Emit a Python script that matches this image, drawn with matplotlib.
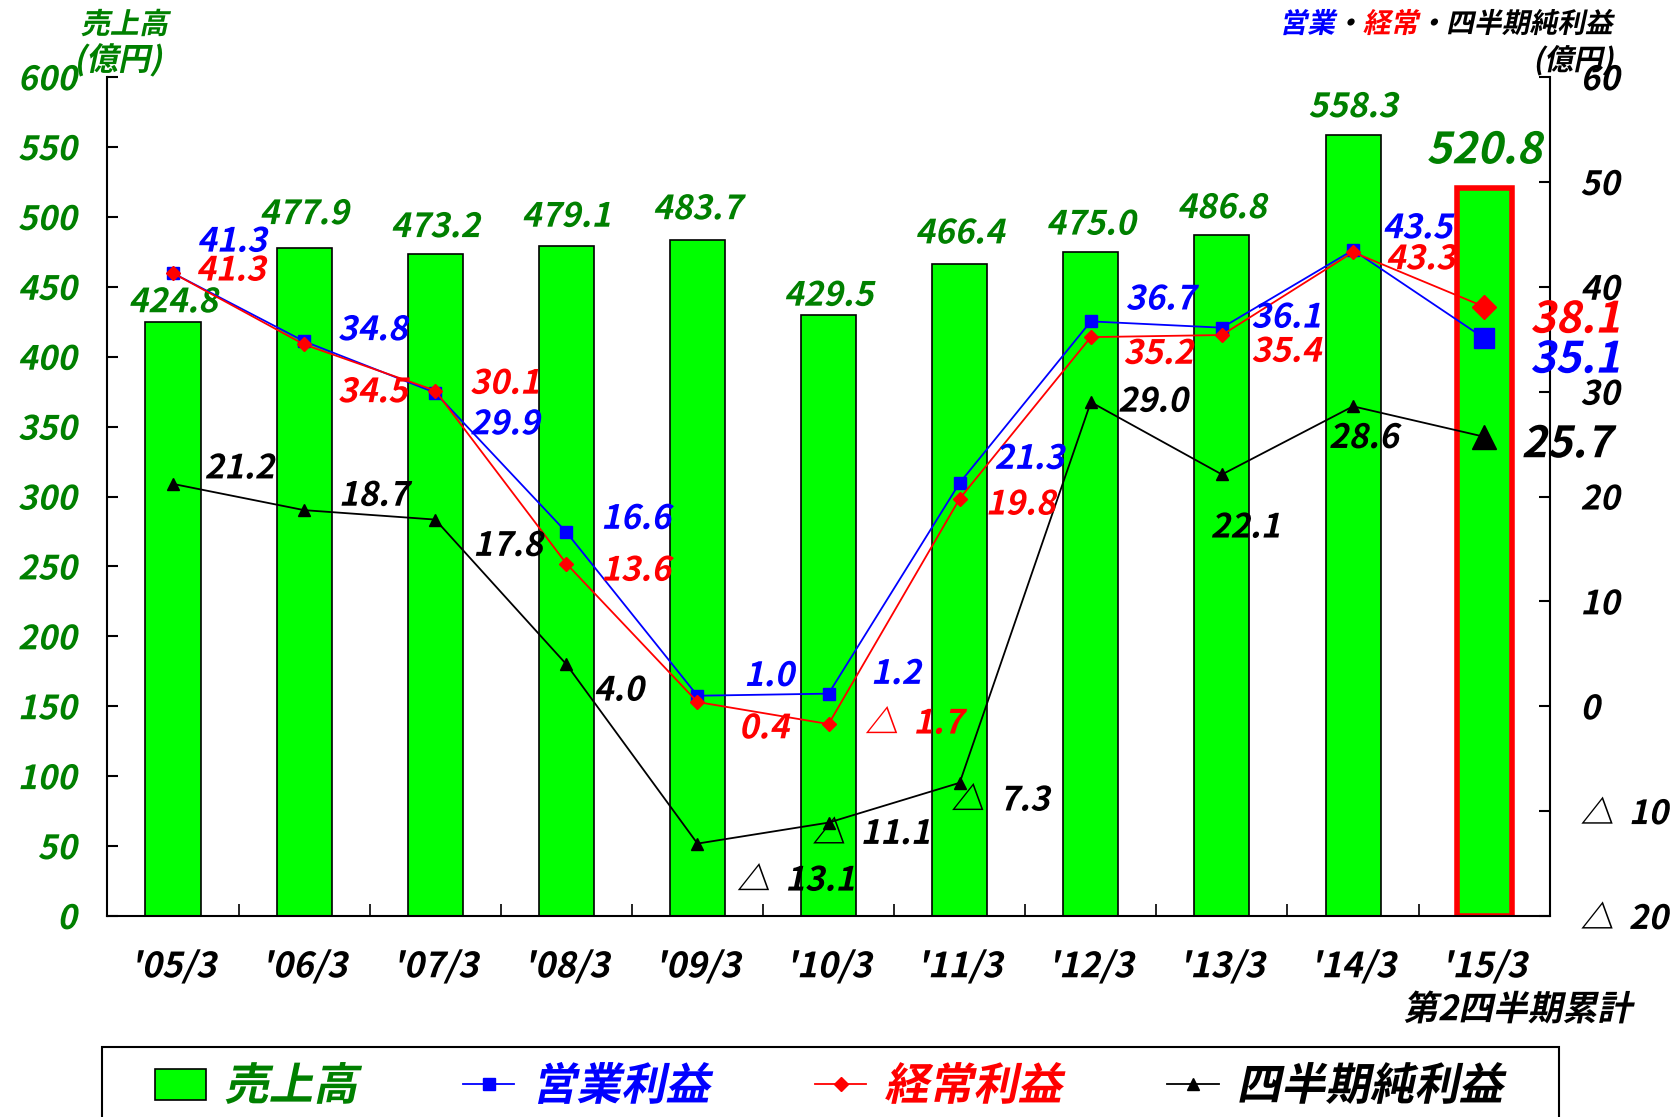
import matplotlib
matplotlib.use("Agg")
import matplotlib.pyplot as plt
import matplotlib.patheffects as pe
from matplotlib.transforms import Affine2D
from matplotlib.patches import Patch, Rectangle
import numpy as np

plt.rcParams["font.family"] = ["Noto Sans CJK JP", "DejaVu Sans"]
plt.rcParams["font.weight"] = "bold"

periods = ["'05/3", "'06/3", "'07/3", "'08/3", "'09/3", "'10/3",
           "'11/3", "'12/3", "'13/3", "'14/3", "'15/3"]
sales = [424.8, 477.9, 473.2, 479.1, 483.7, 429.5, 466.4, 475.0, 486.8, 558.3, 520.8]
op_income = [41.3, 34.8, 29.9, 16.6, 1.0, 1.2, 21.3, 36.7, 36.1, 43.5, 35.1]
ord_income = [41.3, 34.5, 30.1, 13.6, 0.4, -1.7, 19.8, 35.2, 35.4, 43.3, 38.1]
net_income = [21.2, 18.7, 17.8, 4.0, -13.1, -11.1, -7.3, 29.0, 22.1, 28.6, 25.7]
left_ticks = list(range(0, 601, 50))
right_ticks = list(range(-20, 61, 10))
right_labels = ["△  20", "△  10", "0", "10", "20", "30", "40", "50", "60"]

GREEN = "#008000"
K = 1.071 / 1.389  # reference px -> points

# label offsets (reference px, right / down)
sales_dy = [18, 31, 25, 27, 28, 18, 28, 25, 25, 26, 35]
op_off = [(55, -29), (64, -10), (65, 30), (65, -12), (67, -18), (63, -18),
          (65, -22), (65, -20), (60, -9), (60, -20), (85, 20)]
ord_off = [(54, -2), (64, 45), (65, -6), (65, 7), (62, 25), (80, 0),
           (57, 6), (63, 16), (60, 16), (63, 7), (85, 12)]
net_off = [(62, -14), (65, -13), (68, 25), (49, 25), (92, 35), (40, 11),
           (38, 17), (58, 0), (22, 50), (10, 30), (77, 7)]


class Slant(pe.AbstractPathEffect):
    """斜体がないフォントを斜めにする"""
    def __init__(self, deg=12):
        super().__init__()
        self.deg = deg

    def draw_path(self, renderer, gc, tpath, affine, rgbFace=None):
        renderer.draw_path(gc, tpath, Affine2D().skew_deg(self.deg, 0) + affine, rgbFace)


SL = [Slant()]


def fmt(v):
    return f"△  {abs(v):.1f}" if v < 0 else f"{v:.1f}"


fig = plt.figure(figsize=(16.79, 11.17), dpi=100)
ax = fig.add_axes([0.064, 0.180, 0.859, 0.751])
ax2 = ax.twinx()

x = np.arange(len(periods))
edges = ["black"] * (len(x) - 1) + ["red"]
lws = [1.2] * (len(x) - 1) + [4]
ax.bar(x, sales, width=0.42, color="#00FF00", edgecolor=edges, linewidth=lws, zorder=2)

ax.set_xlim(-0.5, len(x) - 0.5)
ax.set_ylim(0, 600)
ax.set_yticks(left_ticks)
ax.set_yticklabels([str(t) for t in left_ticks])
ax.set_xticks(x)
ax.set_xticklabels(periods)
ax.set_xticks(np.arange(0.5, len(x) - 1, 1), minor=True)
ax.tick_params(axis="y", direction="in", length=8, width=1.5, labelsize=24,
               labelcolor=GREEN, pad=22)
ax.tick_params(axis="x", which="major", length=0, labelsize=25, pad=24)
ax.tick_params(axis="x", which="minor", direction="in", length=9, width=1.2)

ax2.set_ylim(-20, 60)
ax2.set_yticks(right_ticks)
ax2.set_yticklabels(right_labels)
ax2.tick_params(axis="y", direction="in", length=8, width=1.5, labelsize=24, pad=22)

for a in (ax, ax2):
    a.spines["top"].set_visible(False)
    for s in a.spines.values():
        s.set_linewidth(1.5)
ax.spines["right"].set_visible(False)
ax2.spines["left"].set_visible(False)
ax2.spines["bottom"].set_visible(False)

for lab in ax.get_xticklabels() + ax.get_yticklabels() + ax2.get_yticklabels():
    lab.set_path_effects(SL)

# 利益ライン
l_op, = ax2.plot(x, op_income, color="blue", lw=1.3, marker="s", ms=8, zorder=3)
l_ord, = ax2.plot(x, ord_income, color="red", lw=1.3, marker="D", ms=7, zorder=4)
l_net, = ax2.plot(x, net_income, color="black", lw=1.3, marker="^", ms=9, zorder=3)
ax2.plot(x[-1], op_income[-1], "s", color="blue", ms=15, zorder=5)
ax2.plot(x[-1], ord_income[-1], "D", color="red", ms=12, zorder=5)
ax2.plot(x[-1], net_income[-1], "^", color="black", ms=17, zorder=5)

# 数値ラベル
for i, v in enumerate(sales):
    big = i == len(sales) - 1
    ax.annotate(fmt(v), (x[i], v), xytext=(0, sales_dy[i] * K), textcoords="offset points",
                ha="center", va="center", color=GREEN, fontsize=31 if big else 24,
                path_effects=SL, zorder=6)

for vals, offs, col in [(op_income, op_off, "blue"),
                        (ord_income, ord_off, "red"),
                        (net_income, net_off, "black")]:
    for i, v in enumerate(vals):
        big = i == len(vals) - 1
        dx, dy = offs[i]
        ax2.annotate(fmt(v), (x[i], v), xytext=(dx * K, -dy * K), textcoords="offset points",
                     ha="center", va="center", color=col, fontsize=31 if big else 24,
                     path_effects=SL, zorder=6)

# 軸タイトル
fig.text(0.048, 0.978, "売上高", color=GREEN, fontsize=21, ha="left", va="center", path_effects=SL)
fig.text(0.044, 0.946, "(億円)", color=GREEN, fontsize=23, ha="left", va="center", path_effects=SL)

t1 = fig.text(0.762, 0.978, "営業", color="blue", fontsize=20, ha="left", va="center", path_effects=SL)
t2 = ax.annotate("・", xy=(1, 0), xycoords=t1, color="black", fontsize=20, va="bottom", ha="left", path_effects=SL)
t3 = ax.annotate("経常", xy=(1, 0), xycoords=t2, color="red", fontsize=20, va="bottom", ha="left", path_effects=SL)
ax.annotate("・四半期純利益", xy=(1, 0), xycoords=t3, color="black", fontsize=20, va="bottom", ha="left", path_effects=SL)
fig.text(0.961, 0.946, "(億円)", color="black", fontsize=21, ha="right", va="center", path_effects=SL)

fig.text(0.972, 0.096, "第2四半期累計", color="black", fontsize=25, ha="right", va="center", path_effects=SL)

# 凡例（枠は別に描く）
fig.patches.append(Rectangle((0.0608, -0.05), 0.868, 0.113, transform=fig.transFigure,
                             fill=False, edgecolor="black", linewidth=1.5))
handles = [Patch(facecolor="#00FF00", edgecolor="black", linewidth=1.2), l_op, l_ord, l_net]
labels = ["売上高", "営業利益", "経常利益", "四半期純利益"]
leg = fig.legend(handles, labels, loc="center left", bbox_to_anchor=(0.0925, 0.027), ncol=4,
                 fontsize=32, frameon=False, handlelength=1.15, handletextpad=0.4,
                 columnspacing=2.37, borderpad=0, borderaxespad=0)
for t, c in zip(leg.get_texts(), [GREEN, "blue", "red", "black"]):
    t.set_color(c)
    t.set_path_effects(SL)

fig.savefig("out.png", dpi=100)
